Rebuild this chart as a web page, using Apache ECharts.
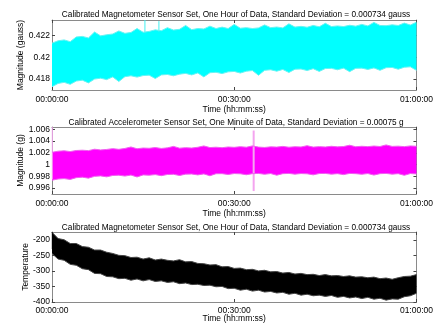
<!DOCTYPE html>
<html>
<head>
<meta charset="utf-8">
<script src="https://cdn.jsdelivr.net/npm/echarts@6/dist/echarts.min.js"></script>
<style>
  html, body { margin: 0; padding: 0; background: #fff; }
  #box { width: 436px; height: 330px; }
</style>
</head>
<body>
<div id="box"></div>
<script>
// time in minutes, one envelope sample per minute
var minutes = [];
for (var i = 0; i <= 60; i++) minutes.push(i);

// magnetometer magnitude (gauss), upper / lower envelope of the noise band
var magHigh = [0.42128, 0.42150, 0.42158, 0.42142, 0.42185, 0.42190, 0.42176, 0.42230, 0.42195, 0.42205,
  0.42212, 0.42240, 0.42218, 0.42226, 0.42262, 0.42228, 0.42236, 0.42250, 0.42242, 0.42270,
  0.42248, 0.42255, 0.42290, 0.42252, 0.42262, 0.42258, 0.42284, 0.42262, 0.42275, 0.42262,
  0.42300, 0.42265, 0.42270, 0.42262, 0.42268, 0.42295, 0.42270, 0.42276, 0.42268, 0.42305,
  0.42275, 0.42282, 0.42274, 0.42290, 0.42278, 0.42310, 0.42280, 0.42286, 0.42280, 0.42292,
  0.42284, 0.42300, 0.42286, 0.42318, 0.42290, 0.42288, 0.42296, 0.42290, 0.42312, 0.42294, 0.42320];
var magLow = [0.41730, 0.41760, 0.41770, 0.41752, 0.41782, 0.41790, 0.41765, 0.41800, 0.41808, 0.41795,
  0.41820, 0.41778, 0.41822, 0.41830, 0.41818, 0.41832, 0.41836, 0.41805, 0.41838, 0.41842,
  0.41830, 0.41845, 0.41852, 0.41838, 0.41856, 0.41820, 0.41858, 0.41862, 0.41850, 0.41866,
  0.41870, 0.41855, 0.41872, 0.41878, 0.41835, 0.41880, 0.41885, 0.41872, 0.41888, 0.41860,
  0.41890, 0.41892, 0.41878, 0.41895, 0.41870, 0.41896, 0.41898, 0.41885, 0.41900, 0.41868,
  0.41898, 0.41900, 0.41888, 0.41902, 0.41880, 0.41904, 0.41906, 0.41890, 0.41908, 0.41912, 0.41880];
var magSpikes = [[15.3, 0.4222, 0.4234], [17.6, 0.4223, 0.4233]];
var magTicks = [0.418, 0.42, 0.422];

// accelerometer magnitude (g)
var accHigh = [1.00210, 1.00228, 1.00235, 1.00222, 1.00240, 1.00245, 1.00238, 1.00262, 1.00250, 1.00258,
  1.00272, 1.00260, 1.00275, 1.00300, 1.00270, 1.00282, 1.00278, 1.00290, 1.00275, 1.00285,
  1.00310, 1.00280, 1.00288, 1.00282, 1.00295, 1.00318, 1.00290, 1.00296, 1.00288, 1.00300,
  1.00294, 1.00305, 1.00296, 1.00318, 1.00298, 1.00292, 1.00302, 1.00298, 1.00310, 1.00296,
  1.00304, 1.00300, 1.00322, 1.00298, 1.00306, 1.00300, 1.00312, 1.00302, 1.00308, 1.00330,
  1.00304, 1.00312, 1.00306, 1.00316, 1.00308, 1.00335, 1.00310, 1.00314, 1.00306, 1.00318, 1.00312];
var accLow = [0.99735, 0.99755, 0.99762, 0.99748, 0.99778, 0.99786, 0.99770, 0.99800, 0.99808, 0.99792,
  0.99815, 0.99820, 0.99805, 0.99822, 0.99790, 0.99825, 0.99820, 0.99830, 0.99812, 0.99832,
  0.99835, 0.99815, 0.99838, 0.99840, 0.99825, 0.99842, 0.99810, 0.99845, 0.99846, 0.99832,
  0.99848, 0.99844, 0.99828, 0.99846, 0.99850, 0.99836, 0.99848, 0.99820, 0.99846, 0.99850,
  0.99838, 0.99848, 0.99844, 0.99826, 0.99848, 0.99850, 0.99838, 0.99846, 0.99830, 0.99850,
  0.99846, 0.99836, 0.99848, 0.99822, 0.99846, 0.99850, 0.99838, 0.99846, 0.99818, 0.99848, 0.99842];
var accSpikes = [[0.05, 0.9975, 1.0064], [33.2, 0.9955, 1.0058]];
var accTicks = [0.996, 0.998, 1, 1.002, 1.004, 1.006];

// temperature
var tempHigh = [-176, -196, -200, -212, -212, -222, -224, -233, -233, -240,
  -244, -250, -251, -257, -256, -262, -258, -265, -262, -266,
  -268, -264, -271, -270, -276, -277, -281, -280, -287, -286,
  -292, -291, -296, -295, -300, -298, -303, -302, -307, -305,
  -310, -308, -312, -311, -315, -312, -316, -315, -318, -316,
  -320, -319, -322, -320, -325, -323, -327, -322, -318, -317, -312];
var tempLow = [-244, -262, -266, -279, -282, -293, -296, -308, -309, -318,
  -319, -325, -324, -330, -326, -332, -328, -334, -332, -337,
  -335, -341, -339, -344, -343, -347, -346, -351, -350, -357,
  -356, -362, -359, -365, -362, -368, -366, -371, -369, -375,
  -372, -378, -375, -380, -378, -382, -379, -385, -382, -387,
  -384, -389, -385, -391, -388, -394, -390, -391, -383, -380, -372];
var tempSpikes = [[0.05, -230, -175]];
var tempTicks = [-400, -350, -300, -250, -200];

var titles = [
  'Calibrated Magnetometer Sensor Set, One Hour of Data, Standard Deviation = 0.000734 gauss',
  'Calibrated Accelerometer Sensor Set, One Minuite of Data, Standard Deviation = 0.00075 g',
  'Calibrated Magnetometer Sensor Set, One Hour of Data, Standard Deviation = 0.000734 gauss'
];

var FONT = 'Liberation Sans, Arial, sans-serif';
var FRAME = '#8a8a8a';

function hms(v) {
  var h = Math.floor(v / 60), m = v % 60;
  return '0' + h + ':' + (m < 10 ? '0' : '') + m + ':00';
}

function pairs(ys) {
  return minutes.map(function (t, i) { return [t, ys[i]]; });
}
function triples(hi, lo) {
  return minutes.map(function (t, i) { return [t, lo[i], hi[i]]; });
}

var myChart = echarts.init(document.getElementById('box'), null, { renderer: 'canvas' });

var grids = [
  { left: 52, right: 18, top: 20, height: 70 },
  { left: 52, right: 18, top: 127, height: 67 },
  { left: 52, right: 18, top: 232, height: 70 }
];
var yRanges = [[0.417, 0.4234], [0.995, 1.0064], [-400, -175]];
var yTicks = [magTicks, accTicks, tempTicks];
var yNames = ['Magnitude (gauss)', 'Magnitude (g)', 'Temperature'];
var yNameGaps = [27, 27, 22];
var xNameGaps = [15, 15, 12];
var xMargins = [5, 5, 4];
var titleTops = [6, 114, 219];

var xAxis = [], yAxis = [], title = [], series = [];

for (var g = 0; g < 3; g++) {
  title.push({
    text: titles[g], left: 231, top: titleTops[g], textAlign: 'center',
    textStyle: { fontFamily: FONT, fontSize: 8.25, fontWeight: 'normal', color: '#000' }
  });
  // bottom + top time axes
  [false, true].forEach(function (isTop) {
    xAxis.push({
      type: 'value', gridIndex: g, position: isTop ? 'top' : 'bottom',
      min: 0, max: 60, interval: 30,
      name: isTop ? '' : 'Time (hh:mm:ss)', nameLocation: 'middle', nameGap: xNameGaps[g],
      nameMoveOverlap: false,
      nameTextStyle: { fontFamily: FONT, fontSize: 8.5, color: '#000' },
      axisLine: { show: true, onZero: false, lineStyle: { color: FRAME, width: 1 } },
      axisTick: { show: true, inside: true, length: 3, lineStyle: { color: '#444' } },
      axisLabel: {
        show: !isTop, margin: xMargins[g], fontFamily: FONT, fontSize: 8.5, color: '#000',
        formatter: hms, showMinLabel: true, showMaxLabel: true
      },
      splitLine: { show: false }
    });
  });
  // left + right value axes
  [false, true].forEach(function (isRight) {
    yAxis.push({
      type: 'value', gridIndex: g, position: isRight ? 'right' : 'left',
      min: yRanges[g][0], max: yRanges[g][1],
      name: isRight ? '' : yNames[g], nameLocation: 'middle', nameGap: yNameGaps[g],
      nameMoveOverlap: false,
      nameTextStyle: { fontFamily: FONT, fontSize: 8.5, color: '#000' },
      axisLine: { show: true, onZero: false, lineStyle: { color: FRAME, width: 1 } },
      axisTick: { show: true, inside: true, length: 3, customValues: yTicks[g], lineStyle: { color: '#444' } },
      axisLabel: {
        show: !isRight, margin: 2, fontFamily: FONT, fontSize: 8.5, color: '#000',
        customValues: yTicks[g]
      },
      splitLine: { show: false }
    });
  });
}

var bands = [
  { hi: magHigh, lo: magLow, fill: '#00ffff', edge: '#66f4f4', spikes: magSpikes, spikeColor: '#40f0f0' },
  { hi: accHigh, lo: accLow, fill: '#ff00ff', edge: '#f060f0', spikes: accSpikes, spikeColor: '#f4a4ef' },
  { hi: tempHigh, lo: tempLow, fill: '#000000', edge: '#444444', spikes: tempSpikes, spikeColor: '#000' }
];

bands.forEach(function (b, g) {
  var xi = g * 2, yi = g * 2;
  // filled band between lower and upper envelope, one polygon for the whole band
  series.push({
    type: 'custom', xAxisIndex: xi, yAxisIndex: yi, silent: true,
    data: triples(b.hi, b.lo),
    renderItem: function (params, api) {
      if (params.dataIndexInside !== 0) return null;
      var n = params.dataInsideLength, up = [], down = [];
      for (var j = 0; j < n; j++) {
        up.push(api.coord([api.value(0, j), api.value(2, j)]));
        down.unshift(api.coord([api.value(0, j), api.value(1, j)]));
      }
      return {
        type: 'polygon',
        shape: { points: up.concat(down) },
        style: { fill: b.fill, stroke: null }
      };
    }
  });
  // jagged edges
  [b.hi, b.lo].forEach(function (ys) {
    series.push({
      type: 'line', xAxisIndex: xi, yAxisIndex: yi, silent: true,
      data: pairs(ys), symbol: 'none',
      lineStyle: { width: 1, color: b.edge }
    });
  });
  // isolated spikes
  series.push({
    type: 'custom', xAxisIndex: xi, yAxisIndex: yi, silent: true,
    data: b.spikes,
    renderItem: function (params, api) {
      var p0 = api.coord([api.value(0), api.value(1)]);
      var p1 = api.coord([api.value(0), api.value(2)]);
      return {
        type: 'line',
        shape: { x1: p0[0], y1: p0[1], x2: p1[0], y2: p1[1] },
        style: { stroke: b.spikeColor, lineWidth: g === 1 && api.value(0) > 1 ? 2 : 1 }
      };
    }
  });
});

var option = {
  animation: false,
  backgroundColor: '#fff',
  textStyle: { fontFamily: FONT },
  title: title,
  grid: grids,
  xAxis: xAxis,
  yAxis: yAxis,
  series: series
};

myChart.setOption(option);
</script>
</body>
</html>
